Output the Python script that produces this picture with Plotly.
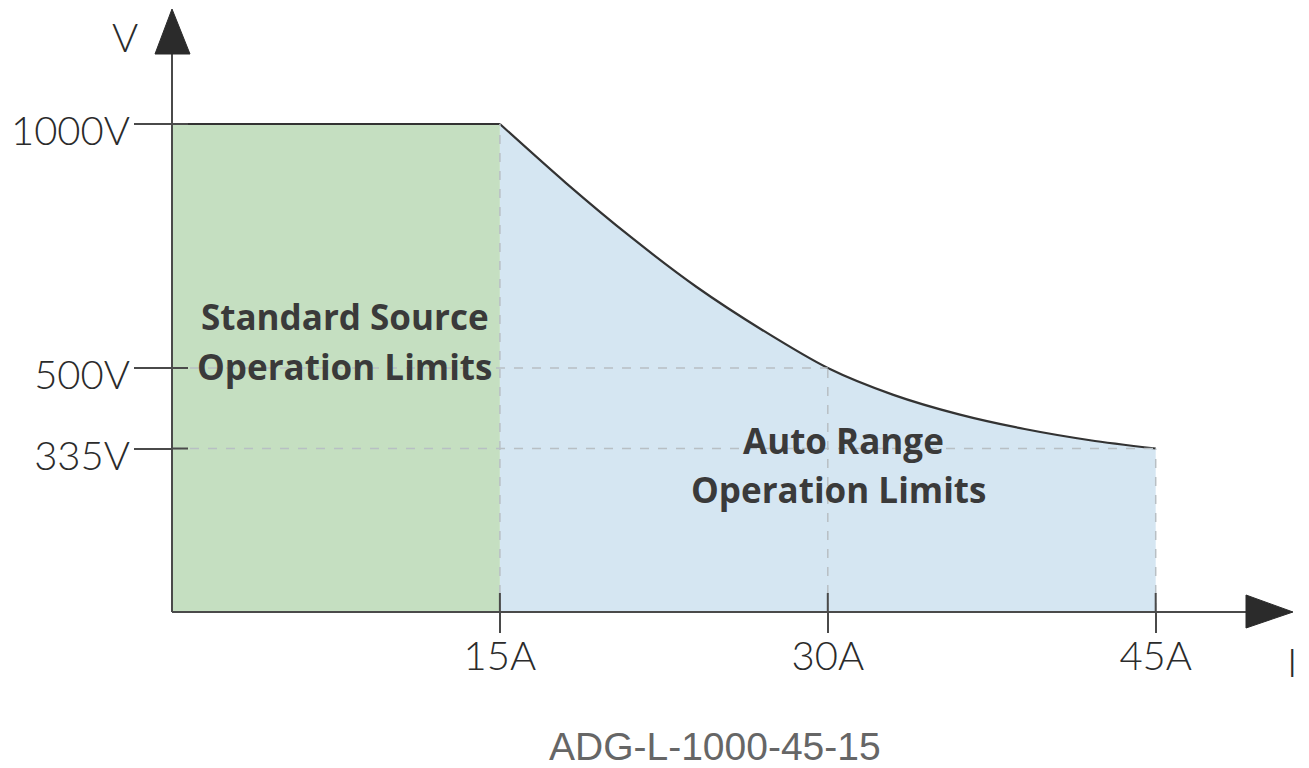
import plotly.graph_objects as go

# ---- data ----
std_current = [0, 15]
std_voltage = [1000, 1000]

auto_current = [15, 18, 21, 24, 27, 30, 33, 36, 39, 42, 45]
auto_voltage = [1000, 880, 768, 666, 578, 500, 445, 405, 375, 352, 335]

x_ticks = [15, 30, 45]
x_tick_text = ["15A", "30A", "45A"]
y_ticks = [335, 500, 1000]
y_tick_text = ["335V", "500V", "1000V"]

model_name = "ADG-L-1000-45-15"

# ---- styling ----
GREEN = "#c5dfc1"
BLUE = "#d5e6f2"
AXIS = "#4a4a4a"
DASH = "#b8bfc4"
LABEL_FONT = "Lato"
ZONE_FONT = "Open Sans"

BODY = 8  # default page margin of the html body
W_PX, H_PX = 1309 - BODY, 768 - BODY
ML, MT = 172 - BODY, 10 - BODY
PW, PH = 1093, 602
MR = W_PX - ML - PW
MB = H_PX - MT - PH
PX_PER_V = 0.488


def page_to_paper(px, py):
    fx, fy = px - BODY, py - BODY
    return (fx - ML) / PW, (H_PX - MB - fy) / PH


fig = go.Figure()

fig.add_trace(go.Scatter(x=std_current, y=std_voltage, mode="none",
                         fill="tozeroy", fillcolor=GREEN, hoverinfo="skip",
                         showlegend=False))
fig.add_trace(go.Scatter(x=auto_current, y=auto_voltage, mode="lines",
                         line=dict(width=0, shape="spline", smoothing=0.8),
                         fill="tozeroy", fillcolor=BLUE,
                         hoverinfo="skip", showlegend=False))

shapes = []
# dashed guide lines: verticals from each x tick up to the boundary
for xv in x_ticks:
    top = std_voltage[-1] if xv == std_current[-1] else auto_voltage[auto_current.index(xv)]
    shapes.append(dict(type="line", xref="x", yref="y", x0=xv, x1=xv, y0=0, y1=top,
                       line=dict(color=DASH, width=1.5, dash="dash"), layer="above"))
# horizontal guides for the lower voltage ticks
for yv in y_ticks:
    if yv in auto_voltage and yv != std_voltage[0]:
        xi = auto_current[auto_voltage.index(yv)]
        shapes.append(dict(type="line", xref="x", yref="y", x0=0, x1=xi, y0=yv, y1=yv,
                           line=dict(color=DASH, width=1.5, dash="dash"), layer="above"))

# inner parts of tick marks (crossing the axes)
for xv in x_ticks:
    shapes.append(dict(type="line", xref="x", yref="y", xsizemode="pixel", ysizemode="pixel",
                       xanchor=xv, yanchor=0, x0=0, x1=0, y0=0, y1=19,
                       line=dict(color=AXIS, width=2), layer="above"))
for yv in y_ticks:
    shapes.append(dict(type="line", xref="x", yref="y", xsizemode="pixel", ysizemode="pixel",
                       xanchor=0, yanchor=yv, x0=0, x1=16, y0=0, y1=0,
                       line=dict(color=AXIS, width=2), layer="above"))

# axis lines with arrowheads (paper refs so they are not clipped)
common = dict(xref="paper", yref="paper", xsizemode="pixel", ysizemode="pixel",
              xanchor=0, yanchor=0, layer="above")
shapes.append(dict(type="line", x0=0, x1=0, y0=0, y1=560,
                   line=dict(color=AXIS, width=2), **common))
shapes.append(dict(type="path", path="M -17,558 L 0,603 L 18,558 Z",
                   fillcolor="#2b2b2b", line=dict(color="#2b2b2b", width=1), **common))
shapes.append(dict(type="line", x0=0, x1=1076, y0=0, y1=0,
                   line=dict(color=AXIS, width=2), **common))
shapes.append(dict(type="path", path="M 1074,17 L 1121,0 L 1074,-16 Z",
                   fillcolor="#2b2b2b", line=dict(color="#2b2b2b", width=1), **common))

# boundary line: flat top then the auto-range curve
fig.add_trace(go.Scatter(x=std_current, y=std_voltage, mode="lines",
                         line=dict(color="#333333", width=2),
                         hoverinfo="skip", showlegend=False))
fig.add_trace(go.Scatter(x=auto_current, y=auto_voltage, mode="lines",
                         line=dict(color="#333333", width=2.2, shape="spline", smoothing=0.8),
                         hoverinfo="skip", showlegend=False))

zone_font = dict(family=ZONE_FONT, size=35, color="#3a3a3a", weight="bold")
axis_font = dict(family=LABEL_FONT, size=40, color="#2b2b2b", weight=300)

vx, vy = page_to_paper(125, 37)
ix, iy = page_to_paper(1292, 662)
mx, my = page_to_paper(715, 746)

annotations = [
    dict(text="Standard Source", x=7.9, y=606, xref="x", yref="y", showarrow=False, font=zone_font),
    dict(text="Operation Limits", x=7.9, y=504, xref="x", yref="y", showarrow=False, font=zone_font),
    dict(text="Auto Range", x=30.7, y=352, xref="x", yref="y", showarrow=False, font=zone_font),
    dict(text="Operation Limits", x=30.5, y=252, xref="x", yref="y", showarrow=False, font=zone_font),
    dict(text="V", x=vx, y=vy, xref="paper", yref="paper", xanchor="center", yanchor="middle",
         showarrow=False, font=axis_font),
    dict(text="I", x=ix, y=iy, xref="paper", yref="paper", xanchor="center", yanchor="middle",
         showarrow=False, font=axis_font),
    dict(text=model_name, x=mx, y=my, xref="paper", yref="paper", xanchor="center", yanchor="middle",
         showarrow=False, font=dict(family="Liberation Sans, Arial", size=39, color="#666666")),
]

fig.update_layout(
    width=W_PX, height=H_PX,
    margin=dict(l=ML, r=MR, t=MT, b=MB, autoexpand=False),
    paper_bgcolor="white", plot_bgcolor="white",
    shapes=shapes, annotations=annotations,
    xaxis=dict(range=[0, 50], showgrid=False, zeroline=False, showline=False,
               automargin=False,
               tickmode="array", tickvals=x_ticks, ticktext=x_tick_text,
               ticks="outside", ticklen=20, tickwidth=2, tickcolor=AXIS,
               ticklabelstandoff=-11, tickfont=axis_font),
    yaxis=dict(range=[0, PH / PX_PER_V], showgrid=False, zeroline=False, showline=False,
               automargin=False,
               tickmode="array", tickvals=y_ticks, ticktext=y_tick_text,
               ticks="outside", ticklen=37, tickwidth=2, tickcolor=AXIS,
               ticklabelstandoff=-4, ticklabelshift=7, tickfont=axis_font),
)

fig.write_html("out.html")
